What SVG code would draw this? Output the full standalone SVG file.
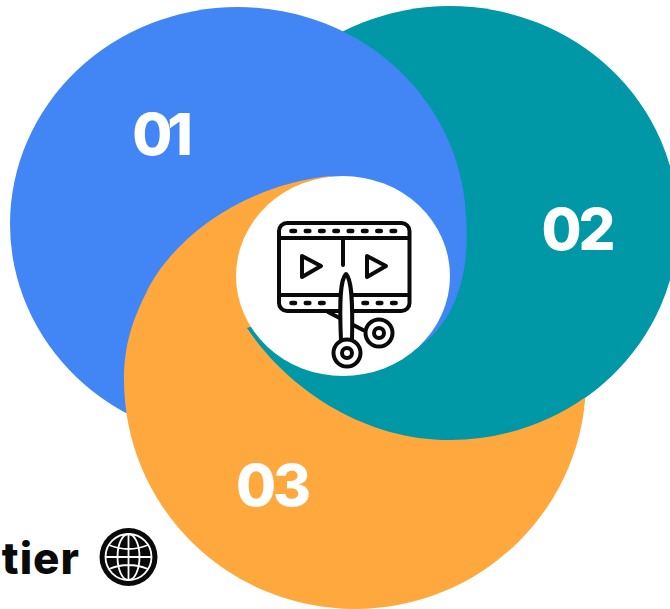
<svg xmlns="http://www.w3.org/2000/svg" width="670" height="609" viewBox="0 0 670 609">
<style>
.num{font-family:"Inter","Liberation Sans",sans-serif;font-weight:800;font-size:58px;fill:#fff;text-anchor:middle;letter-spacing:-3px}
.ln{fill:none;stroke:#0a0a0a;stroke-width:4;stroke-linecap:round;stroke-linejoin:round}
.gl{fill:none;stroke:#fff;stroke-width:1.8}
.dot{stroke:#0a0a0a;stroke-width:4.600;stroke-linecap:round;stroke-dasharray:3.500 10.800;fill:none}
</style>
<rect width="670" height="609" fill="#fff"/>
<g id="node-02"><ellipse cx="450" cy="223" rx="228" ry="217" fill="#0097a7"/></g>
<g id="node-01"><ellipse cx="238" cy="224" rx="228" ry="217" fill="#4285f4"/></g>
<g id="node-03"><path d="M124,380C124,345 132,320 150,285C178,235 245,185 330,176L420,300L455,380L586,380A231,229 0 0 1 124,380Z" fill="#ffa83e"/></g>
<g id="node-02-tail"><path d="M247,328C285,385 360,440 450,440A228,217 0 0 0 600,386L640,300L470,220L440,320L330,300Z" fill="#0097a7"/></g>
<g id="node-01-tail"><path d="M466,215C470,272 458,322 412,352L400,300Z" fill="#4285f4"/></g>
<g id="hub">
<ellipse cx="343" cy="276" rx="107" ry="100" fill="#fff"/>
<rect class="ln" x="279" y="223" width="130.500" height="88" rx="8"/>
<path class="ln" d="M279,238H409M279,295H409M343,238V265"/>
<path class="dot" d="M291.500,231H396"/>
<path class="dot" d="M291.500,303H330M363.500,303H396"/>
<path class="ln" d="M302,256L321,266L302,277Z M367,256L386,266L367,277Z"/>
<path class="ln" d="M328,312L363,330"/>
<path d="M346,274C351,279 353,295 352,340H341C339,295 341,279 346,274Z" fill="#fff" stroke="#0a0a0a" stroke-width="4" stroke-linejoin="round"/>
<circle cx="347" cy="353" r="13.500" fill="#fff" stroke="#0a0a0a" stroke-width="4"/>
<circle class="ln" cx="347" cy="353" r="5"/>
<circle class="ln" cx="379" cy="333" r="13.500"/>
<circle class="ln" cx="379" cy="333" r="5"/>
</g>
<text class="num" x="160" y="155" style="letter-spacing:-5px">01</text>
<text class="num" x="577" y="250">02</text>
<text class="num" x="272" y="506">03</text>
<g id="label-tier">
<text x="80" y="574" text-anchor="end" font-family="Inter, 'Liberation Sans', sans-serif" font-weight="800" font-size="44" letter-spacing="1" fill="#0a0a0a">tier</text>
<circle cx="128.500" cy="557" r="29" fill="#0a0a0a"/>
<circle class="gl" cx="128.500" cy="557" r="23"/>
<ellipse class="gl" cx="128.500" cy="557" rx="11" ry="23"/>
<path class="gl" d="M128.500,534V580M105.500,557H151.500M109,545Q128.500,553 148,545M109,569Q128.500,561 148,569"/>
</g>
</svg>
